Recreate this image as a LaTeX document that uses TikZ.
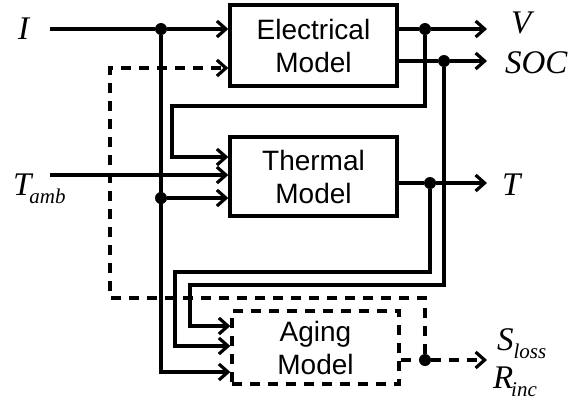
\documentclass[tikz,border=0pt]{standalone}
\usepackage{fontspec}
\setmainfont{Liberation Serif}
\newfontfamily\boxfont{Liberation Sans}
\usetikzlibrary{arrows.meta,calc}

\newcommand\lowsub[1]{\raisebox{-0.55ex}{\fontsize{10.5}{12}\selectfont\itshape #1}}

\begin{document}
\begin{tikzpicture}[
  x=0.5pt, y=-0.5pt,
  line join=miter,
  model/.style={draw, line width=1.7pt, minimum width=83.5pt,
    align=center, font=\boxfont\fontsize{14}{16.5}\selectfont},
  wire/.style={line width=1.7pt},
  arr/.style={wire, -{Straight Barb[length=4.5pt,width=8pt,line width=1.6pt]}},
  dsh/.style={wire, dash pattern=on 5pt off 4pt},
  dot/.style={circle, fill, inner sep=0pt, minimum size=6pt},
  lbl/.style={anchor=base west, font=\fontsize{16.5}{18}\selectfont\itshape}
]
  \useasboundingbox (0,0) rectangle (577,403);

  % Blocks
  \node[model, minimum height=40.5pt] (elec)  at (313.5,45.5)  {Electrical\\Model};
  \node[model, minimum height=39.5pt] (therm) at (313.5,176.5) {Thermal\\Model};
  \node[model, minimum height=36.5pt, dash pattern=on 5pt off 4pt]
    (aging) at (315.5,347.5) {Aging\\Model};

  % Branch points
  \node[dot] (dI)  at (161,29)  {};
  \node[dot] (dT)  at (161,198) {};
  \node[dot] (dV)  at (425,29)  {};
  \node[dot] (dS)  at (444,61)  {};
  \node[dot] (dTo) at (430,183) {};
  \node[dot] (dA)  at (425,360) {};

  % Free ends
  \coordinate (iS)  at (50,29);
  \coordinate (tS)  at (50,175);
  \coordinate (vE)  at (487,29);
  \coordinate (sE)  at (487,61);
  \coordinate (tE)  at (487,183);
  \coordinate (aE)  at (487,360);

  % Inputs
  \draw[wire] (iS) -- (dI);
  \draw[arr] (dI) -- (dI -| elec.west);
  \draw[arr] (dI) |- ($(aging.west)+(0,24.5)$);
  \draw[arr] (dT) -- (dT -| therm.west);
  \draw[arr] (tS) -- (tS -| therm.west);

  % Electrical outputs
  \draw[wire] (dV -| elec.east) -- (dV);
  \draw[arr] (dV) -- (vE);
  \draw[wire] (dS -| elec.east) -- (dS);
  \draw[arr] (dS) -- (sE);
  \draw[arr] (dV) |- (172,106) |- ($(therm.west)+(0,-19.5)$);
  \draw[arr] (dS) |- (190,285) |- ($(aging.west)+(0,-21.5)$);

  % Thermal output
  \draw[wire] (dTo -| therm.east) -- (dTo);
  \draw[arr] (dTo) -- (tE);
  \draw[arr] (dTo) |- (175,272) |- ($(aging.west)+(0,-1.5)$);

  % Aging output and feedback
  \draw[dsh] (dA -| aging.east) -- (dA);
  \draw[dsh, -{Straight Barb[length=4.5pt,width=8pt,line width=1.6pt]}] (dA) -- (aE);
  \draw[dsh, -{Straight Barb[length=4.5pt,width=8pt,line width=1.6pt]}]
    (dA) |- (110,298) |- ($(elec.west)+(0,22.5)$);

  % Labels
  \node[lbl] (lI)    at (11,39)   {I};
  \node[lbl] (lTamb) at (6,195)   {T\kern-1pt\lowsub{amb}};
  \node[lbl] (lV)    at (504,33)  {V};
  \node[lbl] (lSOC)  at (498,73)  {SOC};
  \node[lbl] (lT)    at (495,195) {T};
  \node[lbl] (lS)    at (490,350) {S\lowsub{loss}};
  \node[lbl] (lR)    at (486,388) {R\kern-1pt\lowsub{inc}};
\end{tikzpicture}
\end{document}
